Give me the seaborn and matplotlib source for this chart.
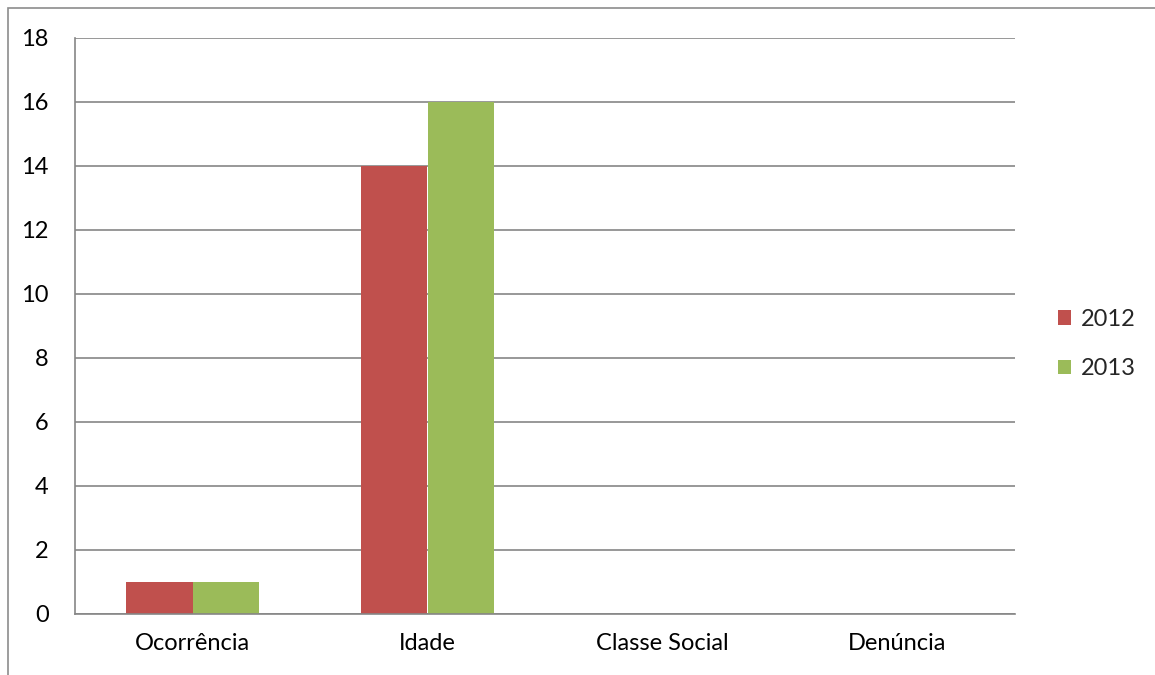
import matplotlib
matplotlib.use("Agg")
import matplotlib.pyplot as plt
from matplotlib.patches import Rectangle, Patch
import seaborn as sns
import pandas as pd

categories = ["Ocorrência", "Idade", "Classe Social", "Denúncia"]
series_names = ["2012", "2013"]
values_2012 = [1, 14, 0, 0]
values_2013 = [1, 16, 0, 0]
y_ticks = [0, 2, 4, 6, 8, 10, 12, 14, 16, 18]
colors = ["#C0504D", "#9BBB59"]

df = pd.DataFrame({
    "categoria": categories * 2,
    "ano": [series_names[0]] * len(categories) + [series_names[1]] * len(categories),
    "valor": values_2012 + values_2013,
})

sns.set_style("white")
plt.rcParams["font.family"] = ["Lato", "DejaVu Sans"]

W, H = 1155, 675
FS = 17
fig = plt.figure(figsize=(W / 100, H / 100), dpi=100)
ax = fig.add_axes([75 / W, 1 - 614 / H, (1015 - 75) / W, (614 - 38) / H])

grid_c = "#868686"
sns.barplot(data=df, x="categoria", y="valor", hue="ano", order=categories,
            hue_order=series_names, palette=colors, width=0.567, gap=0,
            saturation=1, edgecolor="none", linewidth=0, ax=ax, legend=False)

ax.set_xlim(-0.5, len(categories) - 0.5)
ax.set_ylim(0, 18)
ax.set_yticks(y_ticks)
ax.yaxis.grid(True, color=grid_c, linewidth=1.2)
ax.set_axisbelow(True)
ax.set_xlabel("")
ax.set_ylabel("")

for s in ["top", "right"]:
    ax.spines[s].set_visible(False)
for s in ["left", "bottom"]:
    ax.spines[s].set_color(grid_c)
    ax.spines[s].set_linewidth(1.2)

ax.set_xticks([i - 0.5 for i in range(len(categories) + 1)], minor=True)
ax.tick_params(axis="x", which="major", length=0, pad=14, labelsize=FS, colors="black")
ax.tick_params(axis="x", which="minor", length=8, width=1.2, color=grid_c, direction="out")
ax.tick_params(axis="y", length=7, width=1.2, color=grid_c, direction="out", pad=12,
               labelsize=FS, labelcolor="black")

handles = [Patch(facecolor=c, edgecolor="none") for c in colors]
fig.legend(handles, series_names, loc="center left",
           bbox_to_anchor=(1037 / W, 1 - 344 / H), frameon=False,
           fontsize=FS, handlelength=0.55, handleheight=0.55,
           handletextpad=0.4, labelspacing=1.2)

fig.patches.append(Rectangle((7.5 / W, -0.1), 1.2, 1.1 - 8.5 / H, transform=fig.transFigure,
                             fill=False, edgecolor="#8C8C8C", linewidth=1.2))

fig.savefig("out.png", dpi=100)
